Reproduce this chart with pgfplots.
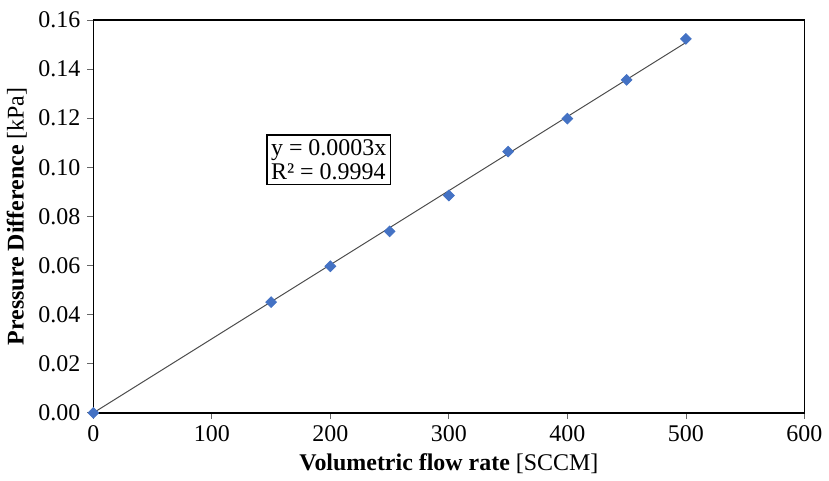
\documentclass[border=0pt]{standalone}
\usepackage{fontspec}
\setmainfont{Liberation Serif}
\usepackage{pgfplots}
\pgfplotsset{compat=1.18}
\definecolor{ptblue}{HTML}{4472C4}
\begin{document}
\begin{tikzpicture}
\begin{axis}[
    width=356.5pt, height=197pt, scale only axis,
    xmin=0, xmax=600, ymin=0, ymax=0.16,
    xtick={0,100,...,600},
    ytick={0,0.02,...,0.16},
    yticklabel style={/pgf/number format/.cd, fixed, fixed zerofill, precision=2},
    /pgf/number format/assume math mode=true,
    tick align=outside,
    xtick pos=bottom, ytick pos=left,
    major tick length=3pt,
    axis line style={black, line width=0.8pt},
    tick style={black!60, line width=0.4pt},
    tick label style={font=\fontsize{12}{14}\selectfont},
    xlabel={\textbf{Volumetric flow rate} [SCCM]},
    ylabel={\textbf{Pressure Difference} [kPa]},
    label style={font=\fontsize{12}{14}\selectfont},
    xlabel style={yshift=1pt},
    ylabel style={yshift=-1pt},
    clip=false,
]
% linear trendline
\addplot[black!70, line width=0.5pt] coordinates {(0,0) (500,0.1508)};
\addplot[only marks, mark=square*, mark size=1.9pt,
    mark options={fill=ptblue, draw=ptblue, rotate=45}]
coordinates {
    (0,0) (150,0.0451) (200,0.0597) (250,0.0739) (300,0.0885)
    (350,0.1064) (400,0.1198) (450,0.1356) (500,0.1523)
};
\node[draw, line width=0.6pt, fill=white, align=left, inner sep=2pt,
      font=\fontsize{12}{12.5}\selectfont] at (axis cs:198.6,0.1031)
    {y = 0.0003x\\R² = 0.9994};
% a little room above the plot, as in the reference
\path (rel axis cs:0,1) ++(0,10pt) coordinate (topspace);
\end{axis}
\end{tikzpicture}
\end{document}
